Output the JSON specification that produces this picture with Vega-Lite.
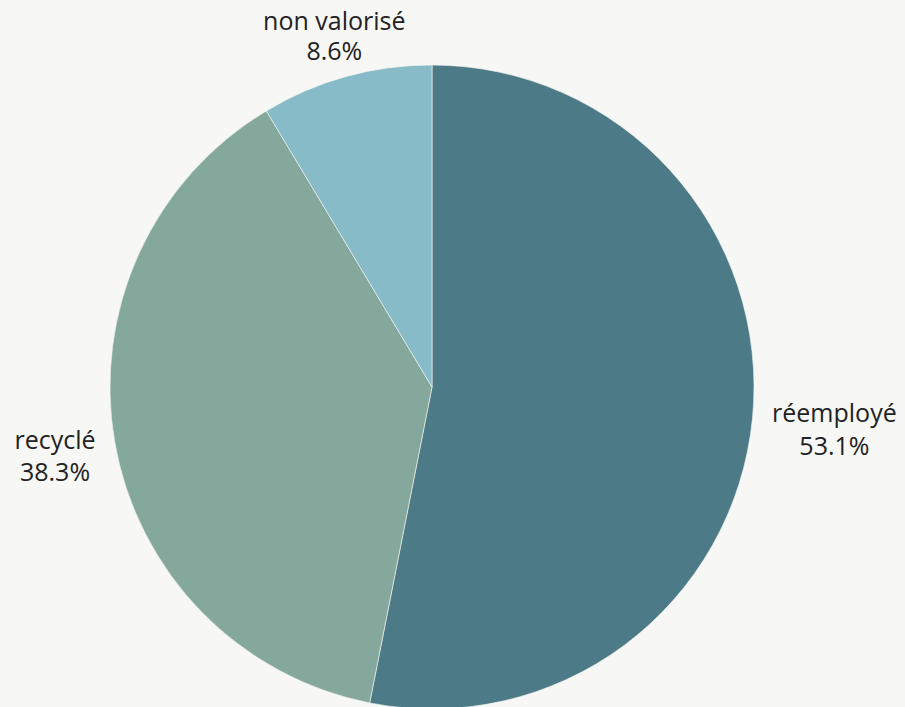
{
  "$schema": "https://vega.github.io/schema/vega-lite/v6.json",
  "width": 864,
  "height": 774,
  "autosize": "none",
  "padding": {"left": 0, "top": 0, "right": 41, "bottom": 0},
  "background": "#f7f7f5",
  "config": {"view": {"stroke": null}},
  "data": {"values": [
    {"cat": "réemployé", "pct": 53.1, "rank": 1, "label": "réemployé\n53.1%"},
    {"cat": "recyclé", "pct": 38.3, "rank": 2, "label": "recyclé\n38.3%"},
    {"cat": "non valorisé", "pct": 8.6, "rank": 3, "label": "non valorisé\n8.6%"}
  ]},
  "encoding": {
    "theta": {"field": "pct", "type": "quantitative", "stack": true},
    "order": {"field": "rank", "type": "quantitative"}
  },
  "layer": [
    {
      "mark": {"type": "arc", "outerRadius": 322, "stroke": "#f7f7f5", "strokeWidth": 0.6},
      "encoding": {
        "color": {"field": "cat", "type": "nominal", "legend": null,
          "scale": {"domain": ["réemployé", "recyclé", "non valorisé"], "range": ["#4d7a87", "#84a89b", "#86bbc7"]}}
      }
    },
    {
      "mark": {"type": "text", "radius": 336, "align": "center", "baseline": "middle", "dx": 68, "dy": -6, "fontSize": 25, "lineBreak": "\n", "lineHeight": 33, "font": "Open Sans", "color": "#222222"},
      "encoding": {"text": {"condition": {"test": "datum.cat === 'réemployé'", "field": "label", "type": "nominal"}, "value": ""}}
    },
    {
      "mark": {"type": "text", "radius": 336, "align": "center", "baseline": "middle", "dx": -46, "dy": -4, "fontSize": 25, "lineBreak": "\n", "lineHeight": 32, "font": "Open Sans", "color": "#222222"},
      "encoding": {"text": {"condition": {"test": "datum.cat === 'recyclé'", "field": "label", "type": "nominal"}, "value": ""}}
    },
    {
      "mark": {"type": "text", "radius": 336, "align": "center", "baseline": "middle", "dx": -8, "dy": -41, "fontSize": 25, "lineBreak": "\n", "lineHeight": 30, "font": "Open Sans", "color": "#222222"},
      "encoding": {"text": {"condition": {"test": "datum.cat === 'non valorisé'", "field": "label", "type": "nominal"}, "value": ""}}
    }
  ]
}
